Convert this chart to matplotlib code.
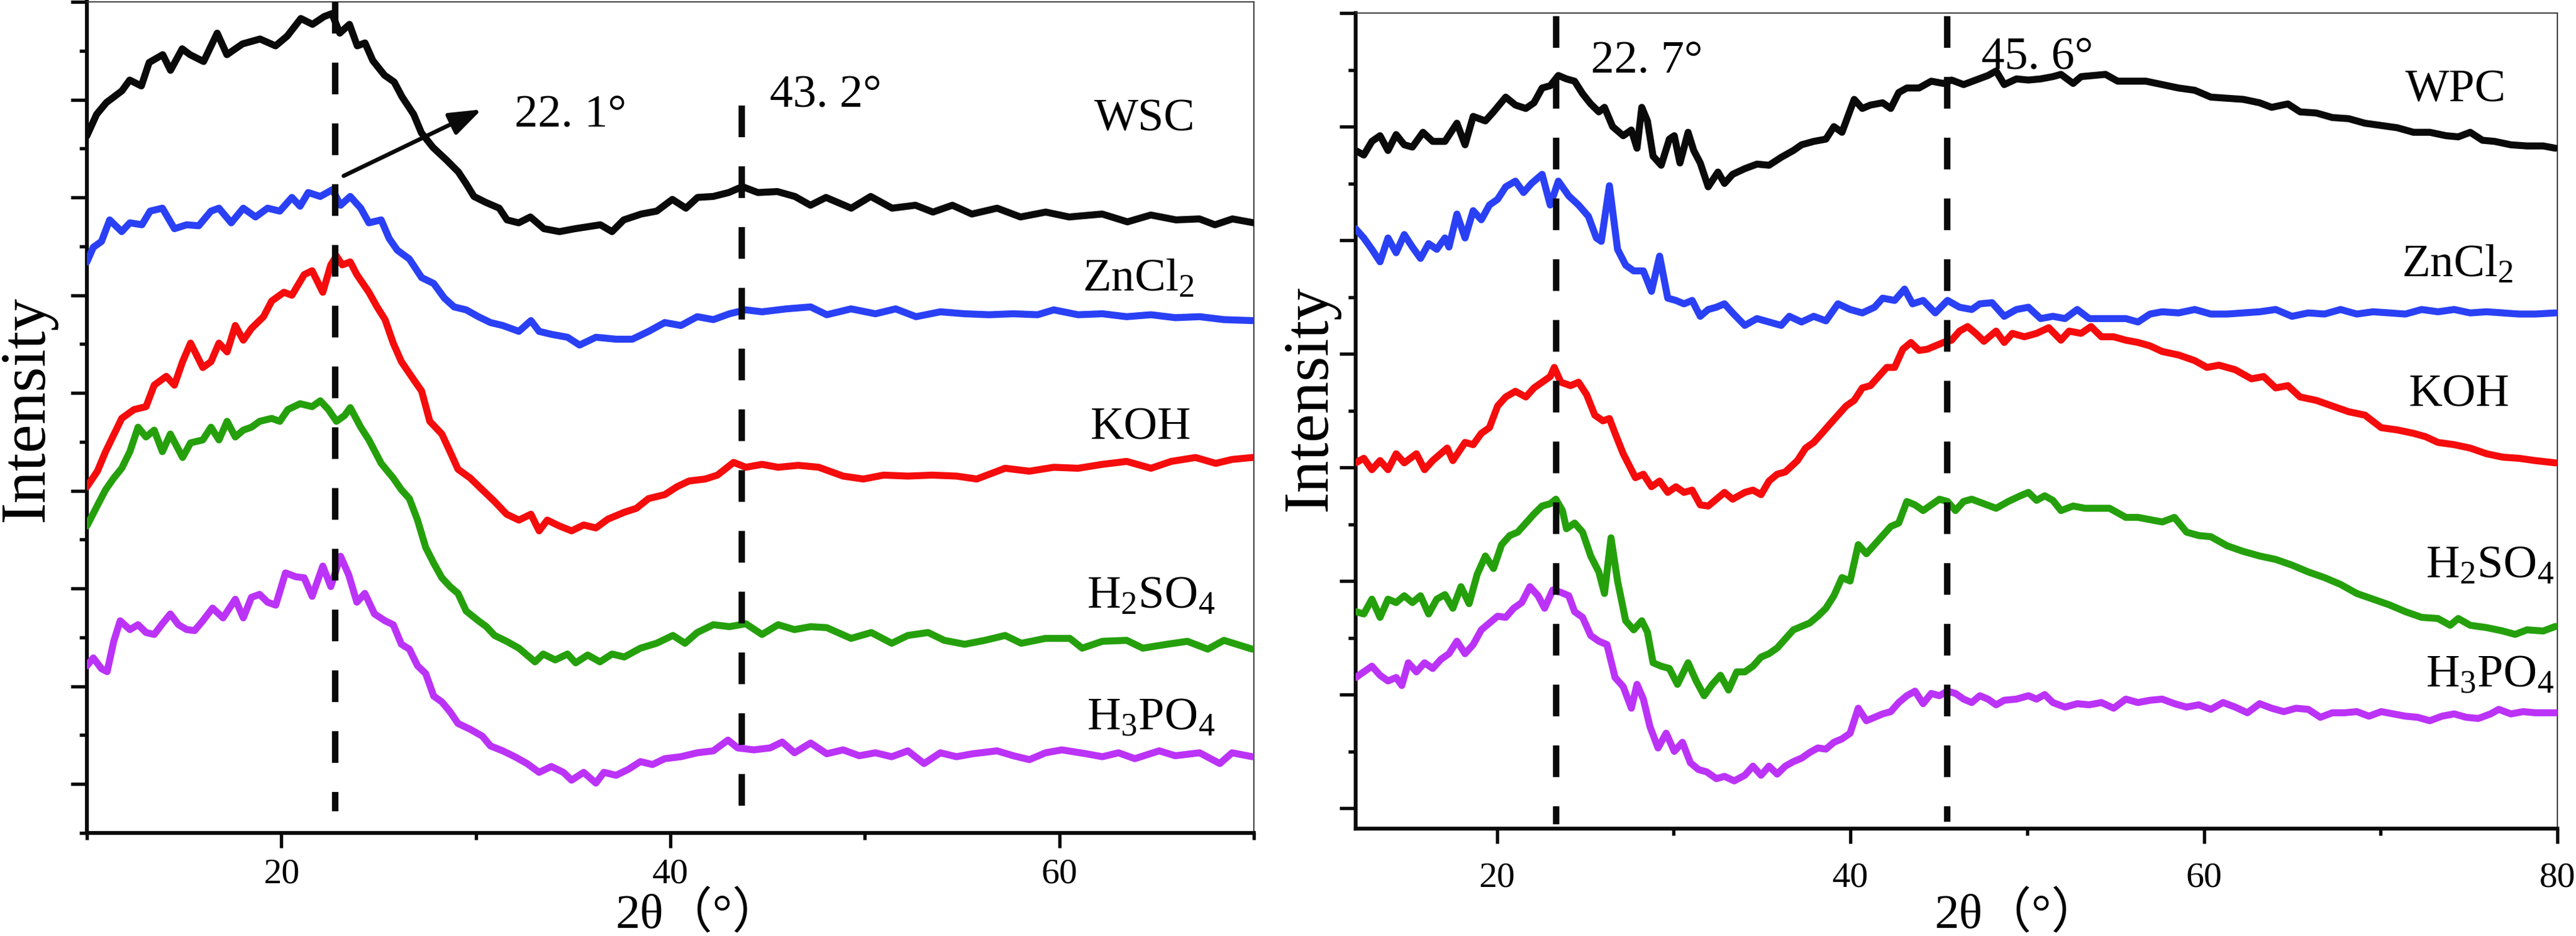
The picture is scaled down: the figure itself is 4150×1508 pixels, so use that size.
import matplotlib
matplotlib.use("Agg")
import matplotlib.pyplot as plt
from matplotlib.ticker import MultipleLocator, NullFormatter

plt.rcParams['font.family'] = ['Liberation Serif', 'Noto Sans CJK SC', 'DejaVu Sans']
plt.rcParams['mathtext.fontset'] = 'custom'
plt.rcParams['mathtext.rm'] = 'Liberation Serif'
plt.rcParams['mathtext.default'] = 'rm'

# ---------------- Left panel (WSC series) ----------------
wsc_x = [10.0,10.5,11.0,11.8,12.2,12.8,13.2,13.9,14.3,14.9,15.3,16.0,16.7,17.2,18.0,18.9,19.7,20.3,21.0,21.6,
         22.2,22.6,23.0,23.5,23.9,24.3,24.7,25.3,25.8,26.2,26.8,27.2,27.8,28.5,29.1,29.5,29.9,30.5,31.2,31.6,
         32.2,32.8,33.5,34.3,35.1,36.4,37.0,37.6,38.5,39.3,40.1,40.8,41.4,42.2,43.0,43.7,44.5,45.5,46.4,47.2,
         48.0,49.3,50.3,51.4,52.6,53.5,54.5,55.5,56.8,58.0,59.3,60.5,62.2,63.5,64.7,66.0,67.2,68.0,68.9,70.0]
wsc_y = [6.63,6.85,6.97,7.09,7.20,7.14,7.38,7.46,7.30,7.52,7.46,7.39,7.68,7.46,7.57,7.62,7.55,7.65,7.83,7.77,
         7.85,7.88,7.68,7.77,7.55,7.58,7.40,7.25,7.18,7.03,6.85,6.66,6.51,6.38,6.26,6.14,6.01,5.95,5.89,5.77,
         5.74,5.80,5.68,5.65,5.68,5.72,5.65,5.77,5.83,5.86,5.98,5.89,6.00,6.01,6.05,6.11,6.05,6.06,6.01,5.92,
         6.00,5.89,6.01,5.89,5.92,5.85,5.92,5.83,5.89,5.80,5.85,5.80,5.83,5.75,5.82,5.77,5.78,5.72,5.78,5.74]

zn_l_x = [10.0,10.33,10.75,11.17,11.79,12.21,12.83,13.25,13.88,14.5,15.13,15.75,16.38,16.79,17.42,18.04,18.67,19.29,19.92,20.54,
          20.96,21.38,22.0,22.63,23.04,23.54,24.08,24.5,25.13,25.54,25.96,26.58,27.21,27.83,28.38,28.88,29.5,30.13,30.75,31.38,
          32.21,32.83,33.25,33.88,34.71,35.33,36.17,37.21,38.04,38.88,39.71,40.54,41.38,42.21,43.04,43.88,44.71,45.96,47.21,48.04,
          49.29,50.54,51.58,52.63,53.88,55.13,56.38,57.63,58.88,59.71,60.96,62.21,63.46,64.71,65.96,67.21,68.46,69.92]
zn_l_y = [5.34,5.49,5.55,5.77,5.65,5.74,5.72,5.86,5.89,5.68,5.72,5.71,5.86,5.89,5.74,5.89,5.80,5.89,5.86,6.00,
          5.91,6.05,6.01,6.08,5.92,6.01,5.89,5.74,5.77,5.58,5.46,5.37,5.18,5.12,4.97,4.88,4.85,4.78,4.72,4.69,
          4.63,4.74,4.63,4.60,4.57,4.49,4.57,4.55,4.55,4.63,4.72,4.69,4.78,4.75,4.81,4.85,4.83,4.86,4.88,4.80,
          4.86,4.81,4.86,4.78,4.83,4.81,4.80,4.81,4.80,4.85,4.80,4.81,4.78,4.80,4.77,4.78,4.75,4.74]

koh_l_x = [10.0,10.54,10.96,11.79,12.42,13.04,13.46,14.08,14.5,14.92,15.33,15.96,16.38,16.79,17.21,17.63,18.04,18.46,19.08,19.5,
           20.13,20.54,21.17,21.58,22.13,22.54,22.83,23.13,23.54,23.88,24.5,24.92,25.33,25.75,26.17,26.79,27.21,27.63,28.25,28.67,
           29.08,29.71,30.33,30.96,31.58,32.21,32.83,33.25,33.67,34.29,34.92,35.54,36.17,36.79,37.63,38.25,38.88,39.71,40.33,40.96,
           41.79,42.42,43.25,43.88,44.71,45.54,46.58,47.63,48.88,49.92,50.96,52.21,53.46,54.71,55.75,57.21,58.46,59.71,60.96,62.21,
           63.46,64.71,65.75,67.0,68.04,68.88,69.92]
koh_l_y = [3.04,3.20,3.40,3.74,3.83,3.86,4.08,4.17,4.08,4.32,4.51,4.26,4.32,4.51,4.42,4.69,4.54,4.66,4.78,4.94,
           5.03,5.00,5.21,5.25,5.03,5.31,5.40,5.31,5.34,5.21,5.03,4.88,4.75,4.51,4.32,4.14,4.02,3.71,3.58,3.40,
           3.22,3.13,3.01,2.89,2.76,2.70,2.76,2.59,2.70,2.64,2.59,2.65,2.62,2.71,2.78,2.82,2.92,2.96,3.04,3.10,
           3.12,3.16,3.29,3.24,3.27,3.24,3.26,3.24,3.15,3.12,3.16,3.15,3.16,3.15,3.12,3.23,3.20,3.24,3.23,3.27,
           3.30,3.23,3.30,3.34,3.28,3.32,3.34]

h2so4_l_x = [10.0,10.54,10.96,11.38,11.79,12.21,12.63,13.04,13.46,13.88,14.29,14.92,15.33,15.96,16.38,16.79,17.21,17.63,18.04,18.46,
             18.88,19.5,19.92,20.33,20.96,21.58,22.0,22.42,22.83,23.25,23.54,24.08,24.5,25.13,25.75,26.17,26.58,27.0,27.42,27.83,
             28.25,28.67,29.08,29.5,30.13,30.54,30.96,31.58,32.21,33.04,33.46,34.08,34.71,35.13,35.75,36.38,37.0,37.63,38.46,39.29,
             40.13,40.75,41.38,42.21,43.04,43.88,44.71,45.54,46.38,47.21,48.04,49.29,50.33,51.38,52.21,53.25,54.08,55.13,56.17,57.21,
             58.04,59.29,60.54,61.17,62.21,63.46,64.29,65.54,66.58,67.63,68.46,69.92]
h2so4_l_y = [2.64,2.85,3.01,3.13,3.23,3.40,3.65,3.55,3.62,3.40,3.58,3.34,3.49,3.52,3.65,3.52,3.71,3.55,3.62,3.65,
             3.71,3.74,3.71,3.83,3.89,3.86,3.92,3.83,3.71,3.77,3.85,3.65,3.52,3.28,3.13,3.01,2.92,2.70,2.42,2.26,
             2.11,2.02,1.95,1.77,1.67,1.61,1.52,1.46,1.39,1.25,1.33,1.27,1.33,1.24,1.32,1.25,1.33,1.30,1.39,1.44,
             1.52,1.44,1.55,1.63,1.61,1.64,1.53,1.63,1.58,1.61,1.60,1.49,1.55,1.44,1.52,1.55,1.47,1.43,1.47,1.52,
             1.44,1.49,1.49,1.39,1.46,1.47,1.39,1.43,1.46,1.38,1.47,1.38]

h3po4_l_x = [10.0,10.33,10.75,11.04,11.38,11.71,12.21,12.63,13.04,13.46,13.88,14.29,14.71,15.13,15.54,15.96,16.46,17.0,17.63,18.04,
             18.46,18.88,19.29,19.71,20.21,20.75,21.17,21.58,22.13,22.54,23.04,23.46,23.88,24.29,24.79,25.33,25.75,26.17,26.58,27.0,
             27.42,27.83,28.25,28.67,29.08,29.71,30.33,30.75,31.38,32.0,32.63,33.25,33.88,34.5,34.92,35.54,36.17,36.58,37.21,37.83,
             38.46,39.08,39.71,40.54,41.38,42.21,42.96,43.46,44.29,45.13,45.75,46.38,47.21,48.04,48.88,49.71,50.54,51.38,52.21,53.04,
             53.88,54.71,55.54,56.79,57.63,58.46,59.29,60.13,61.38,62.21,63.04,63.88,65.13,65.96,67.21,68.25,68.88,69.92]
h3po4_l_y = [1.21,1.29,1.18,1.15,1.46,1.67,1.58,1.63,1.55,1.53,1.64,1.74,1.63,1.58,1.57,1.67,1.80,1.70,1.89,1.70,
             1.91,1.94,1.86,1.83,2.16,2.12,2.11,1.92,2.23,2.02,2.33,2.14,1.86,1.95,1.74,1.67,1.63,1.43,1.38,1.21,
             1.13,0.90,0.84,0.74,0.62,0.56,0.49,0.39,0.34,0.28,0.21,0.12,0.18,0.12,0.04,0.12,0.01,0.12,0.09,0.15,
             0.23,0.20,0.26,0.28,0.32,0.34,0.45,0.37,0.35,0.37,0.43,0.32,0.42,0.31,0.35,0.29,0.32,0.28,0.34,0.21,
             0.32,0.28,0.31,0.34,0.29,0.25,0.32,0.35,0.31,0.28,0.32,0.26,0.34,0.29,0.32,0.21,0.32,0.28]

# ---------------- Right panel (WPC series) ----------------
wpc_x = [12.0,12.46,12.92,13.38,13.83,14.29,14.75,15.21,15.81,16.36,17.05,17.73,18.19,18.65,19.34,19.80,20.49,21.04,21.63,22.09,
         22.55,23.01,23.47,23.93,24.39,24.84,25.30,25.76,26.08,26.54,27.14,27.60,27.92,28.19,28.51,28.83,29.29,29.75,30.03,30.35,
         30.81,31.13,31.50,31.95,32.50,32.87,33.33,34.02,34.71,35.39,36.08,36.77,37.23,37.92,38.61,39.06,39.52,40.21,40.67,41.13,
         41.82,42.28,42.73,43.19,43.88,44.57,45.26,45.72,46.40,47.09,47.78,48.24,48.70,49.39,50.07,50.76,51.45,51.91,52.60,53.05,
         53.74,54.43,55.12,55.81,56.72,57.64,58.56,59.48,60.39,61.31,62.23,63.15,63.83,64.75,65.44,66.36,67.27,68.19,69.11,70.03,
         70.94,71.86,72.78,73.70,74.39,75.07,75.76,76.45,77.37,78.28,79.20,79.89]
wpc_y = [5.79,5.75,5.87,5.92,5.79,5.93,5.84,5.82,5.95,5.87,5.87,6.03,5.84,6.09,6.05,6.13,6.26,6.19,6.16,6.21,
         6.34,6.36,6.45,6.42,6.40,6.29,6.20,6.13,6.17,6.00,5.92,5.97,5.81,6.17,6.05,5.74,5.66,5.89,5.92,5.68,
         5.95,5.79,5.68,5.47,5.60,5.50,5.58,5.63,5.67,5.66,5.73,5.79,5.84,5.87,5.89,6.00,5.95,6.24,6.16,6.19,
         6.21,6.16,6.30,6.34,6.34,6.40,6.38,6.41,6.37,6.41,6.45,6.49,6.37,6.42,6.41,6.42,6.44,6.46,6.38,6.44,
         6.45,6.46,6.40,6.40,6.40,6.37,6.34,6.32,6.26,6.25,6.24,6.21,6.17,6.20,6.13,6.12,6.08,6.07,6.03,6.01,
         5.99,5.95,5.95,5.92,5.91,5.95,5.88,5.87,5.84,5.83,5.83,5.81]

zn_r_x = [12.0,12.46,12.92,13.38,13.83,14.29,14.75,15.21,15.67,16.13,16.59,17.05,17.28,17.73,18.19,18.65,19.11,19.57,20.03,20.49,
          21.04,21.50,21.95,22.55,23.01,23.47,24.06,24.61,25.17,25.62,25.90,26.36,26.82,27.28,27.73,28.28,28.74,29.20,29.66,30.12,
          30.58,31.04,31.50,31.95,32.41,32.87,33.33,34.02,34.71,35.39,36.08,36.54,37.23,37.92,38.61,39.29,39.98,40.67,41.36,41.82,
          42.50,43.06,43.51,44.11,44.80,45.49,46.17,46.86,47.32,48.01,48.70,49.39,50.07,50.76,51.45,52.14,52.83,53.51,54.20,54.89,
          55.58,56.27,56.95,57.64,58.56,59.48,60.39,61.31,62.23,63.15,64.06,64.98,65.90,66.82,67.73,68.65,69.57,70.49,71.40,72.32,
          73.24,74.16,75.07,75.99,76.91,77.83,78.74,79.89]
zn_r_y = [5.10,5.02,4.92,4.81,5.02,4.89,5.05,4.94,4.84,4.97,4.92,5.02,4.94,5.23,5.02,5.26,5.18,5.31,5.36,5.47,
          5.52,5.42,5.50,5.58,5.31,5.52,5.39,5.31,5.21,5.02,4.99,5.48,4.92,4.78,4.73,4.73,4.55,4.86,4.49,4.47,
          4.44,4.47,4.33,4.39,4.41,4.44,4.36,4.25,4.31,4.28,4.25,4.33,4.28,4.33,4.29,4.44,4.39,4.36,4.41,4.49,
          4.47,4.57,4.44,4.47,4.36,4.47,4.41,4.39,4.44,4.45,4.33,4.39,4.41,4.31,4.33,4.31,4.39,4.31,4.31,4.31,
          4.31,4.28,4.35,4.37,4.36,4.39,4.35,4.35,4.36,4.37,4.39,4.33,4.36,4.35,4.39,4.35,4.37,4.36,4.35,4.39,
          4.37,4.39,4.36,4.37,4.36,4.35,4.35,4.36]

koh_r_x = [12.0,12.46,12.92,13.38,13.83,14.29,14.75,15.44,15.90,16.36,17.18,17.50,18.19,18.65,19.11,19.57,20.03,20.49,21.04,21.63,
           22.09,22.55,23.01,23.24,23.61,24.16,24.61,25.07,25.53,25.99,26.36,26.68,27.14,27.60,27.83,28.28,28.74,29.20,29.66,30.12,
           30.58,31.04,31.50,31.95,32.41,32.87,33.33,34.02,34.48,34.94,35.39,35.85,36.31,37.0,37.46,37.92,38.38,38.83,39.29,39.75,
           40.21,40.67,41.13,41.59,42.05,42.50,42.96,43.42,43.88,44.34,44.80,45.26,45.72,46.17,46.63,47.09,47.55,48.24,48.70,49.16,
           49.84,50.53,51.22,51.91,52.37,53.05,53.61,54.20,54.89,55.58,56.27,56.95,57.64,58.56,59.48,60.17,60.85,61.77,62.69,63.38,
           64.06,64.75,65.44,66.36,67.27,68.19,69.11,70.03,70.94,71.86,72.55,73.24,74.16,75.07,75.99,76.91,77.83,78.74,79.89]
koh_r_y = [3.04,3.08,2.98,3.06,2.98,3.12,3.04,3.12,2.98,3.06,3.17,3.06,3.22,3.20,3.30,3.35,3.54,3.62,3.67,3.62,
           3.70,3.75,3.80,3.88,3.75,3.72,3.75,3.64,3.46,3.41,3.43,3.30,3.12,2.98,2.91,2.94,2.83,2.88,2.78,2.83,
           2.78,2.80,2.67,2.66,2.72,2.78,2.72,2.78,2.80,2.76,2.88,2.94,2.96,3.06,3.17,3.22,3.30,3.38,3.46,3.54,
           3.59,3.70,3.72,3.80,3.88,3.88,4.04,4.10,4.03,4.04,4.07,4.10,4.12,4.20,4.24,4.18,4.11,4.20,4.10,4.18,
           4.15,4.18,4.23,4.12,4.20,4.18,4.24,4.15,4.15,4.12,4.10,4.07,4.02,3.99,3.94,3.88,3.90,3.86,3.78,3.80,
           3.70,3.72,3.62,3.59,3.54,3.49,3.46,3.35,3.33,3.30,3.27,3.22,3.20,3.17,3.12,3.09,3.08,3.06,3.04]

h2so4_r_x = [12.0,12.46,12.92,13.38,13.83,14.29,14.75,15.21,15.67,16.13,16.59,17.05,17.50,17.96,18.42,18.88,19.34,19.80,20.26,20.72,
             21.17,21.63,22.09,22.55,23.01,23.33,23.70,23.93,24.39,24.84,25.30,25.76,26.08,26.45,26.82,27.28,27.73,28.19,28.51,28.83,
             29.29,29.75,30.21,30.81,31.27,31.72,32.18,32.64,33.10,33.56,34.02,34.48,34.94,35.39,35.85,36.31,36.77,37.23,37.69,38.15,
             38.61,39.06,39.52,39.98,40.44,40.90,41.36,41.82,42.28,42.73,43.19,43.65,44.11,44.57,45.03,45.49,45.94,46.40,46.86,47.55,
             48.24,48.93,49.61,50.07,50.53,50.99,51.45,51.91,52.60,53.28,53.97,54.66,55.12,55.58,56.27,56.95,57.64,58.33,59.02,59.71,
             60.39,61.31,62.23,63.15,64.06,64.98,65.90,66.82,67.73,68.65,69.57,70.49,71.40,72.32,73.24,73.93,74.39,75.07,75.99,76.91,
             77.61,78.28,79.20,79.89]
h2so4_r_y = [1.73,1.71,1.84,1.68,1.84,1.81,1.87,1.81,1.87,1.71,1.84,1.88,1.76,1.95,1.80,2.06,2.22,2.11,2.32,2.40,
             2.43,2.51,2.59,2.66,2.68,2.72,2.62,2.46,2.51,2.43,2.22,2.08,1.89,2.38,2.00,1.65,1.57,1.65,1.55,1.28,
             1.25,1.23,1.09,1.28,1.12,0.99,1.09,1.17,1.04,1.20,1.20,1.25,1.33,1.36,1.41,1.49,1.57,1.60,1.63,1.69,
             1.76,1.87,2.03,2.00,2.32,2.24,2.32,2.40,2.48,2.51,2.70,2.67,2.62,2.67,2.72,2.70,2.62,2.70,2.72,2.68,
             2.64,2.70,2.75,2.78,2.71,2.75,2.71,2.62,2.66,2.64,2.64,2.64,2.60,2.56,2.56,2.54,2.52,2.56,2.43,2.40,
             2.39,2.31,2.26,2.22,2.19,2.14,2.08,2.03,1.97,1.89,1.84,1.79,1.73,1.68,1.67,1.61,1.67,1.61,1.59,1.56,
             1.53,1.57,1.56,1.60]

h3po4_r_x = [12.0,12.46,12.92,13.38,13.83,14.29,14.61,14.98,15.44,15.90,16.36,16.82,17.28,17.73,18.19,18.65,19.11,19.57,20.03,20.49,
             20.94,21.40,21.86,22.32,22.69,23.15,23.61,24.06,24.39,24.84,25.30,25.76,26.22,26.68,27.14,27.60,27.92,28.28,28.65,29.11,
             29.57,30.03,30.49,30.94,31.40,31.86,32.41,32.87,33.42,34.02,34.48,34.94,35.39,35.85,36.31,36.77,37.23,37.69,38.15,38.61,
             39.06,39.52,39.98,40.44,40.90,41.36,41.82,42.28,42.73,43.19,43.65,44.11,44.57,45.03,45.49,45.94,46.40,46.86,47.32,47.78,
             48.24,48.70,49.39,50.07,50.53,50.99,51.45,52.14,52.83,53.51,54.20,54.89,55.58,56.27,56.95,57.64,58.33,59.02,59.71,60.39,
             61.08,61.77,62.46,63.15,63.83,64.52,65.21,65.90,66.59,67.27,67.96,68.65,69.34,70.03,70.72,71.40,72.09,72.78,73.47,74.16,
             74.84,75.53,76.22,76.68,77.37,78.06,78.74,79.89]
h3po4_r_y = [1.15,1.20,1.25,1.17,1.12,1.15,1.08,1.28,1.20,1.28,1.23,1.31,1.36,1.47,1.36,1.44,1.57,1.63,1.69,1.68,
             1.76,1.81,1.95,1.87,1.76,1.92,1.90,1.87,1.73,1.68,1.52,1.47,1.44,1.15,1.07,0.88,1.09,0.96,0.72,0.53,
             0.66,0.50,0.58,0.40,0.34,0.32,0.26,0.28,0.24,0.29,0.37,0.29,0.37,0.30,0.37,0.41,0.44,0.49,0.53,0.52,
             0.58,0.61,0.66,0.88,0.77,0.80,0.83,0.85,0.93,0.99,1.03,0.92,1.01,0.99,1.03,1.01,0.96,0.93,0.99,0.96,
             0.91,0.95,0.96,0.99,0.96,1.00,0.93,0.89,0.92,0.91,0.93,0.88,0.96,0.93,0.95,0.96,0.92,0.89,0.91,0.87,
             0.93,0.89,0.84,0.92,0.88,0.85,0.88,0.87,0.80,0.84,0.84,0.85,0.81,0.85,0.83,0.81,0.80,0.77,0.81,0.83,
             0.80,0.79,0.83,0.87,0.83,0.85,0.84,0.84]

# reference lines and labels
left_dash_x = [22.75, 43.67]
left_dash_top = [8.0, 6.94]
left_dash_bottom = [-0.28, -0.22]
right_dash_x = [23.33, 45.49]
right_dash_top = [6.97, 6.97]
right_dash_bottom = [-0.14, -0.12]

left_angle_labels = ["22. 1°", "43. 2°"]
left_angle_pos = [(32.0, 6.73), (45.1, 6.93)]
right_angle_labels = ["22. 7°", "45. 6°"]
right_angle_pos = [(25.3, 6.48), (47.4, 6.51)]

series_labels_left = ["WSC", "ZnCl$_2$", "KOH", "H$_2$SO$_4$", "H$_3$PO$_4$"]
series_label_pos_left = [(61.8, 6.68), (61.2, 5.04), (61.6, 3.53), (61.4, 1.80), (61.4, 0.56)]
series_labels_right = ["WPC", "ZnCl$_2$", "KOH", "H$_2$SO$_4$", "H$_3$PO$_4$"]
series_label_pos_right = [(71.4, 6.22), (71.2, 4.68), (71.6, 3.54), (72.55, 2.03), (72.55, 1.07)]

colors = ['#0a0a0a', '#2a40f5', '#f50c0c', '#25a00c', '#bb33f7']

W, H = 4150, 1508
fig = plt.figure(figsize=(W / 300, H / 300), dpi=300)
axL = fig.add_axes([140 / W, 1 - 1342 / H, (2020 - 140) / W, (1342 - 3) / H])
axR = fig.add_axes([2184 / W, 1 - 1335 / H, (4120 - 2184) / W, (1335 - 21) / H])

left_series = [(wsc_x, wsc_y), (zn_l_x, zn_l_y), (koh_l_x, koh_l_y), (h2so4_l_x, h2so4_l_y), (h3po4_l_x, h3po4_l_y)]
right_series = [(wpc_x, wpc_y), (zn_r_x, zn_r_y), (koh_r_x, koh_r_y), (h2so4_r_x, h2so4_r_y), (h3po4_r_x, h3po4_r_y)]

LW = 2.7
for (xs, ys), c in zip(left_series, colors):
    n = min(len(xs), len(ys))
    axL.plot(xs[:n], ys[:n], color=c, lw=LW, solid_joinstyle='round', solid_capstyle='round', zorder=3)
for (xs, ys), c in zip(right_series, colors):
    n = min(len(xs), len(ys))
    axR.plot(xs[:n], ys[:n], color=c, lw=LW, solid_joinstyle='round', solid_capstyle='round', zorder=3)

DLW = 2.5
dash = (0, (4.9, 4.5))
for x, t, b in zip(left_dash_x, left_dash_top, left_dash_bottom):
    axL.plot([x, x], [t, b], color='#0a0a0a', lw=DLW, linestyle=dash, dash_capstyle='butt', zorder=4)
for x, t, b in zip(right_dash_x, right_dash_top, right_dash_bottom):
    axR.plot([x, x], [t, b], color='#0a0a0a', lw=DLW, linestyle=dash, dash_capstyle='butt', zorder=4)

FS_LAB = 18
for s, (x, y) in zip(left_angle_labels, left_angle_pos):
    axL.text(x, y, s, fontsize=FS_LAB, ha='left', va='baseline')
for s, (x, y) in zip(right_angle_labels, right_angle_pos):
    axR.text(x, y, s, fontsize=FS_LAB, ha='left', va='baseline')
for s, (x, y) in zip(series_labels_left, series_label_pos_left):
    axL.text(x, y, s, fontsize=FS_LAB, ha='left', va='baseline')
for s, (x, y) in zip(series_labels_right, series_label_pos_right):
    axR.text(x, y, s, fontsize=FS_LAB, ha='left', va='baseline')

axL.annotate('', xy=(30.3, 6.90), xytext=(23.2, 6.22),
             arrowprops=dict(arrowstyle='-|>,head_length=0.75,head_width=0.27', lw=1.6,
                             color='#0a0a0a', shrinkA=0, shrinkB=0, mutation_scale=14), zorder=5)

for ax, xl, yl in [(axL, (10, 70), (-0.5, 8)), (axR, (12, 80), (-0.18, 7))]:
    ax.set_xlim(*xl)
    ax.set_ylim(*yl)
    ax.xaxis.set_major_locator(MultipleLocator(20))
    ax.xaxis.set_minor_locator(MultipleLocator(10))
    ax.yaxis.set_major_locator(MultipleLocator(1))
    ax.yaxis.set_minor_locator(MultipleLocator(0.5))
    ax.yaxis.set_major_formatter(NullFormatter())
    for side in ['left', 'bottom']:
        ax.spines[side].set_linewidth(1.5)
        ax.spines[side].set_color('#0a0a0a')
    for side in ['top', 'right']:
        ax.spines[side].set_linewidth(0.45)
        ax.spines[side].set_color('#333333')
    ax.tick_params(axis='both', which='both', direction='out', top=False, right=False,
                   width=1.3, color='#0a0a0a')
    ax.tick_params(axis='y', which='major', length=6.3)
    ax.tick_params(axis='y', which='minor', length=2.9)
    ax.tick_params(axis='x', which='major', length=5.8, labelsize=14, pad=4)
    ax.tick_params(axis='x', which='minor', length=2.6)

axR.tick_params(axis='x', which='major', pad=7)

fig.text(44 / W, 1 - 659 / H, 'Intensity', rotation=90, ha='center', va='center', fontsize=25)
fig.text(2111 / W, 1 - 642 / H, 'Intensity', rotation=90, ha='center', va='center', fontsize=25)
fig.text(1125 / W, 1 - 1475 / H, '2θ（°）', ha='center', va='center', fontsize=19)
fig.text(3250 / W, 1 - 1475 / H, '2θ（°）', ha='center', va='center', fontsize=19)

fig.savefig('out.png', dpi=300)
